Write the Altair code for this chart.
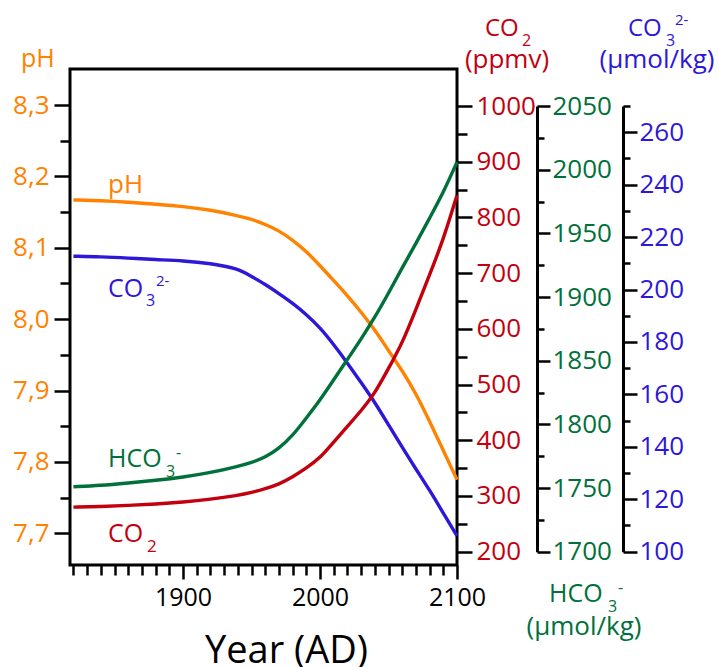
import altair as alt
import pandas as pd

# ---- data -------------------------------------------------------------
years = [1820, 1840, 1860, 1880, 1900, 1920, 1940, 1950, 1960, 1970, 1980, 1990,
         2000, 2010, 2020, 2030, 2040, 2050, 2060, 2070, 2080, 2090, 2100]
ph = [8.167, 8.166, 8.164, 8.161, 8.158, 8.153, 8.145, 8.140, 8.133, 8.124, 8.111, 8.095,
      8.075, 8.054, 8.033, 8.010, 7.985, 7.956, 7.928, 7.896, 7.857, 7.816, 7.775]
co2 = [280, 281, 283, 285.5, 289, 294, 301, 306, 313, 321, 334, 350,
       368, 397, 425, 453, 484, 529, 574, 635, 697, 760, 840]
hco3 = [1751, 1752, 1754, 1756, 1758.5, 1762, 1767, 1770, 1774, 1781, 1791, 1805,
        1819, 1835, 1851, 1867, 1884, 1903, 1923, 1942, 1962, 1982, 2006]
co3 = [212.7, 212.5, 212.0, 211.4, 211.0, 210.0, 208.0, 205.0, 202.0, 198.5, 194.8, 190.5,
       185.5, 179.0, 172.0, 164.5, 157.0, 148.4, 139.8, 131.5, 123.5, 114.7, 106.0]

year_ticks = list(range(1820, 2101, 10))
ph_ticks = [round(7.7 + 0.05 * i, 2) for i in range(13)]
co2_ticks = list(range(200, 1001, 50))
hco3_ticks = list(range(1700, 2051, 25))
co3_ticks = list(range(100, 271, 10))

df = pd.DataFrame({"year": years, "ph": ph, "co2": co2, "hco3": hco3, "co3": co3})

# ---- styling ----------------------------------------------------------
FONT = "Open Sans"
ORANGE = "#FF8200"
RED = "#C3000D"
GREEN = "#00713A"
BLUE = "#2D17D8"

LEFT, TOP = 70, 69          # plot origin inside the page
W, H = 387, 496             # plot area
RIGHT_RANGE = [482.7, 37]   # pixel span shared by the three right-hand scales
PH_RANGE = [464.3, 36]


def ticked_axis(orient, color, values, major_test, label_fmt, major, minor,
                pad, offset=0, domain=False):
    return alt.Axis(
        orient=orient, values=values, offset=offset,
        domain=domain, domainColor="black", domainWidth=3,
        ticks=True, tickColor="black", tickWidth=2.5,
        tickSize={"condition": {"test": major_test, "value": major}, "value": minor},
        labelExpr=f"{major_test} ? {label_fmt} : ''",
        labelColor=color, labelFont=FONT, labelFontSize=26, labelPadding=pad,
        labelOverlap=False, labelFlush=False, grid=False, title=None,
    )


x_axis = alt.Axis(
    orient="bottom", values=year_ticks, domain=False,
    ticks=True, tickColor="black", tickWidth=2.5,
    tickSize={"condition": {"test": "datum.value % 100 == 0", "value": 14}, "value": 10},
    labelExpr="datum.value % 100 == 0 ? format(datum.value, 'd') : ''",
    labelColor="black", labelFont=FONT, labelFontSize=25, labelPadding=6,
    labelOverlap=False, labelFlush=False, grid=False,
    title="Year (AD)", titleFont=FONT, titleFontSize=38, titleFontWeight="normal",
    titleColor="black", titleX=216, titleY=97, titleBaseline="alphabetic",
)
x_enc = alt.X("year:Q", scale=alt.Scale(domain=[1817.5, 2100], nice=False, zero=False),
              axis=x_axis)


def curve(field, color, domain, rng, axis):
    return alt.Chart(df).mark_line(
        color=color, strokeWidth=3.4, interpolate="basis"
    ).encode(
        x=x_enc,
        y=alt.Y(f"{field}:Q",
                scale=alt.Scale(domain=domain, range=rng, nice=False, zero=False),
                axis=axis),
    )


ph_line = curve("ph", ORANGE, [7.7, 8.3], PH_RANGE,
                ticked_axis("left", ORANGE, ph_ticks,
                            "round(datum.value * 20) % 2 == 0",
                            "replace(format(datum.value, '.1f'), '.', ',')",
                            major=16, minor=10, pad=5))
co3_line = curve("co3", BLUE, [100, 270], RIGHT_RANGE,
                 ticked_axis("right", BLUE, co3_ticks, "datum.value % 20 == 0",
                             "format(datum.value, 'd')", major=14, minor=7, pad=2,
                             offset=166, domain=True))
hco3_line = curve("hco3", GREEN, [1700, 2050], RIGHT_RANGE,
                  ticked_axis("right", GREEN, hco3_ticks, "datum.value % 50 == 0",
                              "format(datum.value, 'd')", major=13, minor=7, pad=2,
                              offset=80, domain=True))
co2_line = curve("co2", RED, [200, 1000], RIGHT_RANGE,
                 ticked_axis("right", RED, co2_ticks, "datum.value % 100 == 0",
                             "format(datum.value, 'd')", major=15, minor=10, pad=4))


def note(text, x, y, color, size, align="left"):
    return alt.Chart(alt.Data(values=[{}])).mark_text(
        text=text, color=color, font=FONT, fontSize=size, align=align,
        baseline="alphabetic",
    ).encode(x=alt.value(x - LEFT), y=alt.value(y - TOP))


notes = [
    # axis headers
    note("pH", 21, 67, ORANGE, 25),
    note("CO", 485, 36, RED, 24),
    note("2", 522, 46, RED, 16),
    note("(ppmv)", 507, 68, RED, 26, "center"),
    note("CO", 628, 36, BLUE, 24),
    note("3", 666, 46, BLUE, 16),
    note("2-", 675, 25, BLUE, 15),
    note("(µmol/kg)", 657, 68, BLUE, 26, "center"),
    note("HCO", 549, 602, GREEN, 25),
    note("3", 608, 612, GREEN, 16),
    note("-", 618, 593, GREEN, 16),
    note("(µmol/kg)", 584, 635, GREEN, 26, "center"),
    # curve labels
    note("pH", 108, 193, ORANGE, 26),
    note("CO", 108, 297, BLUE, 25),
    note("3", 146, 306, BLUE, 16),
    note("2-", 156, 286, BLUE, 15),
    note("HCO", 108, 467, GREEN, 25),
    note("3", 166, 477, GREEN, 16),
    note("-", 176, 458, GREEN, 16),
    note("CO", 108, 542, RED, 25),
    note("2", 147, 552, RED, 17),
]

chart = alt.layer(
    ph_line, co3_line, hco3_line, co2_line, *notes
).resolve_scale(
    y="independent"
).properties(
    width=W, height=H,
    padding={"left": LEFT, "top": TOP, "right": 719 - LEFT - W, "bottom": 667 - TOP - H},
    autosize=alt.AutoSizeParams(type="none"),
    background="white",
).configure_view(
    stroke="black", strokeWidth=3,
)

chart.save("out.html", embed_options={"renderer": "svg", "actions": False})
